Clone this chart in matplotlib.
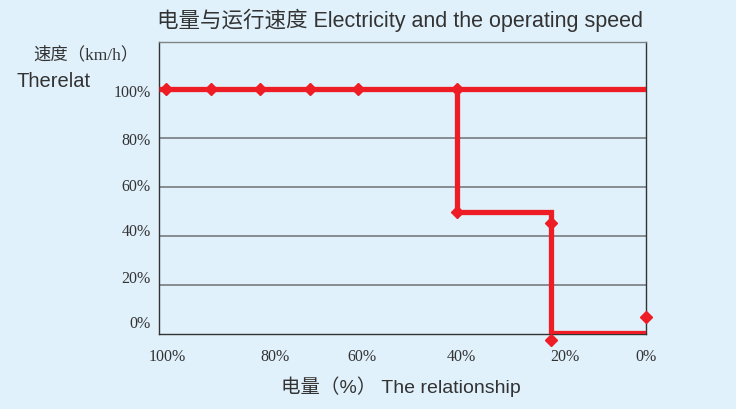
import matplotlib.pyplot as plt

plt.rcParams['font.family'] = ['Liberation Sans', 'Noto Sans CJK SC', 'DejaVu Sans']

# battery level on x (100 at left, 0 at right), speed % on y
top_x = [100, 0]
top_y = [100, 100]
step_x = [38.9, 38.9, 19.5, 19.5, 0]
step_y = [100, 50, 50, 0.5, 0.5]
mark_x = [98.6, 89.3, 79.2, 69.1, 59.1, 38.9, 38.9, 19.5, 19.5, 0]
mark_y = [100, 100, 100, 100, 100, 100, 50, 45.3, -2.4, 6.9]

grid_y = [20, 40, 60, 80]
xtick_pos = [98.4, 76.1, 58.4, 37.9, 16.7, 0]
xtick_lab = ['100%', '80%', '60%', '40%', '20%', '0%']
ytick_pos = [99.2, 79.6, 60.8, 42.4, 23.3, 4.9]
ytick_lab = ['100%', '80%', '60%', '40%', '20%', '0%']

bg = '#e0f1fb'
red = '#ee1c25'

fig = plt.figure(figsize=(7.36, 4.09), dpi=100, facecolor=bg)
ax = fig.add_axes([0.216, 0.1834, 0.662, 0.7136], facecolor=bg)

for g in grid_y:
    ax.axhline(g, color='#7f8489', lw=1.3, zorder=1)

ax.plot(top_x, top_y, color=red, lw=3.8, zorder=3, solid_capstyle='butt')
ax.plot(step_x, step_y, color=red, lw=3.8, zorder=3, solid_joinstyle='miter',
        solid_capstyle='butt')
ax.plot(mark_x, mark_y, 'D', color=red, ms=6, zorder=4, clip_on=False)

ax.set_xticks(xtick_pos)
ax.set_xticklabels(xtick_lab, family='Liberation Serif', fontsize=11.5, color='#333333')
ax.set_yticks(ytick_pos)
ax.set_yticklabels(ytick_lab, family='Liberation Serif', fontsize=11.5, color='#333333')
ax.tick_params(length=0, pad=6)
ax.tick_params(axis='x', pad=11)
ax.set_xlim(100, 0)
ax.set_ylim(0, 119.2)

ax.spines['top'].set_color('#7f8489')
for s in ['left', 'right', 'bottom']:
    ax.spines[s].set_color('#333333')
for s in ax.spines.values():
    s.set_linewidth(1.0)

fig.text(0.544, 0.95, '电量与运行速度 Electricity and the operating speed',
         ha='center', va='center', fontsize=15.5, color='#333333')
fig.text(0.117, 0.865, '速度（km/h）', ha='center', va='center', fontsize=12.5,
         color='#333333', family=['Liberation Serif', 'Noto Sans CJK SC', 'DejaVu Sans'])
fig.text(0.023, 0.8, 'Therelat', ha='left', va='center', fontsize=14.5, color='#333333')
fig.text(0.545, 0.055, '电量（%） The relationship', ha='center', va='center',
         fontsize=14, color='#333333')

fig.savefig('out.png', dpi=100, facecolor=bg)
